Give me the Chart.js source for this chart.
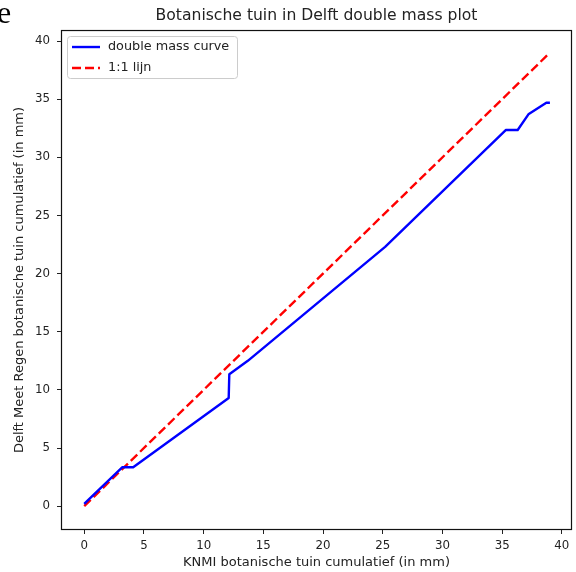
<!DOCTYPE html>
<html>
<head>
<meta charset="utf-8">
<script src="https://cdn.jsdelivr.net/npm/chart.js@4"></script>
<style>
  body { margin: 0; background: #fff; }
  #wrap { position: relative; width: 576px; height: 572px; overflow: hidden; }
  #clip { position: absolute; left: -12px; top: -6px; font: 32px "Liberation Serif", serif; color: #000; }
</style>
</head>
<body>
<div id="wrap">
  <canvas id="massChart"></canvas>
  <div id="clip">le</div>
</div>
<script>
// data
const massX = [0, 0.3, 3.2, 4.1, 12.1, 12.15, 13.7, 25.2, 35.3, 36.3, 37.2, 38.7, 39.0];
const massY = [0.2, 0.5, 3.35, 3.35, 9.3, 11.35, 12.5, 22.3, 32.35, 32.35, 33.7, 34.7, 34.7];
const lineX = [0, 38.9];
const lineY = [0, 38.9];
const xTicks = [0, 5, 10, 15, 20, 25, 30, 35, 40];
const yTicks = [0, 5, 10, 15, 20, 25, 30, 35, 40];

const toPoints = (xs, ys) => xs.map((x, i) => ({ x: x, y: ys[i] }));

// frame around the plot area, like a matplotlib axes box
const frame = {
    id: 'frame',
    afterDraw(chart) {
        const { ctx, chartArea: a } = chart;
        ctx.save();
        ctx.strokeStyle = '#111';
        ctx.lineWidth = 1.2;
        ctx.strokeRect(a.left + 0.5, a.top + 0.5, a.right - a.left - 1, a.bottom - a.top - 1);
        ctx.restore();
    }
};

// legend box inside the plot, upper left
const innerLegend = {
    id: 'innerLegend',
    afterDraw(chart) {
        const { ctx, chartArea: a } = chart;
        const x = a.left + 6, y = a.top + 6, w = 170, h = 42;
        ctx.save();
        ctx.fillStyle = 'rgba(255,255,255,0.8)';
        ctx.strokeStyle = '#cccccc';
        ctx.lineWidth = 1;
        ctx.beginPath();
        ctx.roundRect(x + 0.5, y + 0.5, w, h, 3);
        ctx.fill();
        ctx.stroke();
        chart.data.datasets.forEach((ds, i) => {
            const ly = y + 11 + i * 21;
            ctx.strokeStyle = ds.borderColor;
            ctx.lineWidth = ds.borderWidth;
            ctx.setLineDash(ds.borderDash || []);
            ctx.beginPath();
            ctx.moveTo(x + 5, ly);
            ctx.lineTo(x + 33, ly);
            ctx.stroke();
            ctx.setLineDash([]);
            ctx.fillStyle = '#222';
            ctx.font = '12.8px "DejaVu Sans"';
            ctx.textBaseline = 'middle';
            ctx.fillText(ds.label, x + 41, ly);
        });
        ctx.restore();
    }
};

const tickFont = { family: 'DejaVu Sans', size: 11.8 };
const labelFont = { family: 'DejaVu Sans', size: 13, lineHeight: 1.2 };

const massChart = new Chart(document.getElementById('massChart'), {
    type: 'scatter',
    data: {
        datasets: [{
            label: 'double mass curve',
            data: toPoints(massX, massY),
            showLine: true,
            borderColor: '#0000ff',
            borderWidth: 2.4,
            pointRadius: 0,
            borderJoinStyle: 'round'
        }, {
            label: '1:1 lijn',
            data: toPoints(lineX, lineY),
            showLine: true,
            borderColor: '#ff0000',
            borderWidth: 2.4,
            borderDash: [9, 4],
            pointRadius: 0
        }]
    },
    options: {
        responsive: true,
        maintainAspectRatio: false,
        animation: false,
        layout: { padding: { left: 0, right: 4, top: 0, bottom: 0 } },
        plugins: {
            legend: { display: false },
            tooltip: { enabled: false },
            title: {
                display: true,
                fullSize: false,
                text: 'Botanische tuin in Delft double mass plot',
                color: '#222',
                font: { family: 'DejaVu Sans', size: 15.6, weight: 'normal', lineHeight: 1.2 },
                padding: { top: 6.5, bottom: 4.8 }
            }
        },
        scales: {
            x: {
                type: 'linear',
                min: -1.945,
                max: 40.85,
                afterBuildTicks: scale => { scale.ticks = xTicks.map(v => ({ value: v })); },
                afterFit: scale => { scale.height = 42; },
                grid: { drawOnChartArea: false, drawTicks: true, tickLength: 4, color: '#222' },
                border: { display: false },
                ticks: { color: '#222', font: tickFont, padding: 5, maxRotation: 0 },
                title: {
                    display: true,
                    text: 'KNMI botanische tuin cumulatief (in mm)',
                    color: '#222',
                    font: labelFont,
                    padding: { top: 1, bottom: 2 }
                }
            },
            y: {
                type: 'linear',
                min: -2.05,
                max: 40.95,
                afterBuildTicks: scale => { scale.ticks = yTicks.map(v => ({ value: v })); },
                afterFit: scale => { scale.width = 61; },
                grid: { drawOnChartArea: false, drawTicks: true, tickLength: 4, color: '#222' },
                border: { display: false },
                ticks: { color: '#222', font: tickFont, padding: 7 },
                title: {
                    display: true,
                    text: 'Delft Meet Regen botanische tuin cumulatief (in mm)',
                    color: '#222',
                    font: labelFont,
                    padding: { top: 12, bottom: 0 }
                }
            }
        }
    },
    plugins: [frame, innerLegend]
});
</script>
</body>
</html>
